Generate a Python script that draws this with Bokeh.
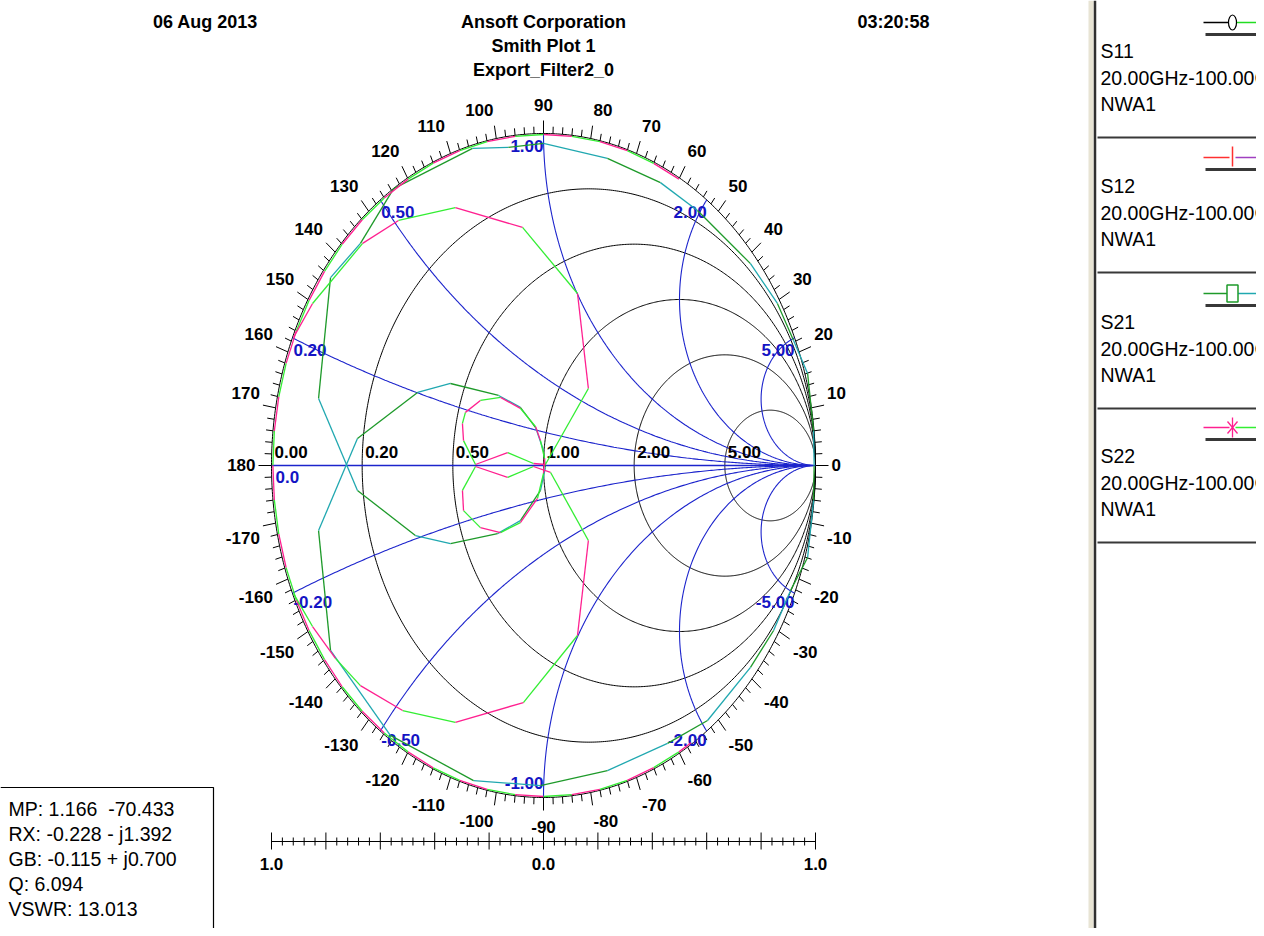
import numpy as np
from bokeh.plotting import figure
from bokeh.models import Range1d
from bokeh.embed import file_html
from bokeh.resources import INLINE
from bokeh.core.properties import value

# ---------------- data ----------------
# S21 / S12 (transmission) trace, reflection-plane coordinates
s21_re = [-0.551, -0.261, -0.129, 0.000, 0.235, 0.430, 0.566, 0.761, 0.860, 0.919, 0.971, 0.993,
          0.995, 0.993, 0.971, 0.908, 0.846, 0.761, 0.603, 0.456, 0.235, -0.011, -0.257, -0.563,
          -0.783, -0.827, -0.684, -0.463, -0.342, -0.165, -0.085, -0.029, 0.000, 0.007, -0.011,
          -0.085, -0.169, -0.342, -0.471, -0.684, -0.827, -0.783, -0.673, -0.551]
s21_im = [0.834, 0.955, 0.958, 0.970, 0.925, 0.852, 0.768, 0.608, 0.488, 0.377, 0.277, 0.105,
          0.000, -0.105, -0.277, -0.377, -0.497, -0.608, -0.768, -0.837, -0.919, -0.964, -0.949,
          -0.813, -0.557, -0.196, 0.081, 0.220, 0.247, 0.211, 0.175, 0.114, 0.045, -0.006, -0.075,
          -0.166, -0.205, -0.235, -0.211, -0.075, 0.202, 0.566, 0.669, 0.834]

# S11 / S22 (reflection) trace, passband part
s11_re = [-0.919, -0.849, -0.665, -0.533, -0.324, -0.077, 0.125, 0.165, 0.007, -0.037, -0.132,
          -0.250, -0.294, -0.298, -0.287, -0.232, -0.158, -0.085, -0.029, -0.011, 0.004, 0.000,
          -0.022, -0.085, -0.158, -0.232, -0.294, -0.298, -0.250, -0.132, -0.037, 0.026, 0.165,
          0.125, -0.074, -0.324, -0.518, -0.673, -0.765, -0.849, -0.919]
s11_im = [0.386, 0.488, 0.669, 0.738, 0.777, 0.717, 0.518, 0.232, 0.003, 0.006, 0.039, 0.003,
          0.075, 0.127, 0.160, 0.196, 0.205, 0.172, 0.117, 0.075, 0.021, -0.024, -0.099, -0.172,
          -0.202, -0.187, -0.136, -0.075, -0.003, -0.036, -0.003, -0.021, -0.226, -0.512, -0.714,
          -0.774, -0.738, -0.663, -0.581, -0.485, -0.386]

# S11 / S22 trace, stop-band part running along the rim (magnitude, angle in degrees)
s11_rim_mag = [0.996, 0.996, 0.997, 0.997, 0.997, 0.997, 0.997, 0.997, 0.997, 0.997, 0.996,
               0.996, 0.996, 0.996, 0.995, 0.995, 0.995, 0.995, 0.995, 0.995, 0.995, 0.995,
               0.995, 0.995, 0.995, 0.995, 0.995, 0.996, 0.996, 0.996, 0.996, 0.997, 0.997,
               0.997, 0.997, 0.997, 0.997, 0.997, 0.997, 0.996, 0.996, 0.996]
s11_rim_ang = [60, 66, 72, 78, 84, 90, 96, 102, 108, 114, 120, 126, 132, 138, 144, 150, 156,
               162, 168, 174, 180, 186, 192, 198, 204, 210, 216, 222, 228, 234, 240, 246, 252,
               258, 264, 270, 276, 282, 288, 294, 300, 303]

# Smith grid values
resistances = [0.0, 0.2, 0.5, 1.0, 2.0, 5.0]
res_labels = ["0.00", "0.20", "0.50", "1.00", "2.00", "5.00"]
reactances = [0.2, 0.5, 1.0, 2.0, 5.0, -0.2, -0.5, -1.0, -2.0, -5.0]
react_labels = ["0.20", "0.50", "1.00", "2.00", "5.00", "-0.20", "-0.50", "-1.00", "-2.00", "-5.00"]
angle_labels = list(range(-170, 190, 10))
scale_labels = ["1.0", "0.0", "1.0"]
scale_label_pos = [-1.0, 0.0, 1.0]

titles = ["06 Aug 2013", "Ansoft Corporation", "Smith Plot 1", "Export_Filter2_0", "03:20:58"]
marker_lines = ["MP: 1.166\u00a0\u00a0-70.433", "RX: -0.228 - j1.392", "GB: -0.115 + j0.700",
                "Q: 6.094", "VSWR: 13.013"]
legend_names = ["S11", "S12", "S21", "S22"]
legend_range = "20.00GHz-100.00GHz"
legend_source = "NWA1"
legend_left_colors = ["#000000", "#ff3030", "#1e9a2a", "#ff2090"]
legend_right_colors = ["#22dd22", "#a040c0", "#20a8b0", "#33ee33"]

# ---------------- layout ----------------
W, H = 1256, 928
CX, CY = 543, 465      # pixel of chart centre
SX, SY = 272, 332      # pixels per unit of reflection coefficient

def dx(X):
    return (X - CX) / SX

def dy(Y):
    return (CY - Y) / SY

p = figure(width=W, height=H, output_backend="svg", toolbar_location=None,
           x_range=Range1d(dx(0), dx(W)), y_range=Range1d(dy(H), dy(0)),
           x_axis_location=None, y_axis_location=None, min_border=0)
p.grid.visible = False
p.outline_line_color = None
p.background_fill_color = "white"
p.border_fill_color = "white"

FONT = value("Liberation Sans")
BLUE = "#1c24cc"
BLUE_T = "#1414c4"
FS = "17px"

# resistance circles (black)
t = np.linspace(0, 2 * np.pi, 721)
rx, ry = [], []
for r in resistances:
    c = r / (1 + r)
    rad = 1 / (1 + r)
    rx.append(c + rad * np.cos(t))
    ry.append(rad * np.sin(t))
p.multi_line(rx, ry, line_color="black", line_width=1)

# reactance arcs (blue)
rr = np.concatenate([np.linspace(0, 1, 200), np.geomspace(1, 2e4, 400)])
ax_, ay_ = [], []
for xv in reactances:
    z = rr + 1j * xv
    g = (z - 1) / (z + 1)
    ax_.append(g.real)
    ay_.append(g.imag)
p.multi_line(ax_, ay_, line_color=BLUE, line_width=1.1)
p.line([-1, 1], [0, 0], line_color=BLUE, line_width=1.4)

# angle ticks around the rim
angs = np.arange(-180, 180, 2)
a = np.radians(angs)
L = np.where(angs % 10 == 0, 13.0, 7.0)
x0 = np.cos(a)
y0 = np.sin(a)
nx = SX * np.cos(a)
ny = SY * np.sin(a)
nn = np.hypot(nx, ny)
x1 = x0 + L * (nx / nn) / SX
y1 = y0 + L * (ny / nn) / SY
p.segment(x0, y0, x1, y1, line_color="black", line_width=1)

# angle labels
lx, ly, lt, la = [], [], [], []
for ang in angle_labels:
    c = np.cos(np.radians(ang))
    s = np.sin(np.radians(ang))
    Xc = CX + SX * c
    Yc = CY - SY * s
    X = Xc + 16 * c
    if s > 0.05:
        Y = Yc - (12 + 17 * s)
    elif s < -0.05:
        Y = Yc + (12 + 17 * abs(s))
    else:
        Y = Yc - 1
    lx.append(dx(X))
    ly.append(dy(Y))
    lt.append(str(ang))
    la.append("left" if c > 0.15 else ("right" if c < -0.15 else "center"))
p.text(lx, ly, text=lt, text_align=la, text_baseline="middle", text_font=FONT,
       text_font_style="bold", text_font_size=FS, text_color="black")

# resistance labels
p.text([dx(CX + SX * (r - 1) / (r + 1) + 3) for r in resistances],
       [dy(CY - 13.5)] * len(resistances), text=res_labels, text_align="left",
       text_baseline="middle", text_font=FONT, text_font_style="bold",
       text_font_size=FS, text_color="black")

# reactance labels
kx, ky, ka = [], [], []
for xv in reactances:
    g = complex(0, xv)
    g = (g - 1) / (g + 1)
    Xp = CX + SX * g.real
    Yp = CY - SY * g.imag
    if xv == -1.0:
        Yl = Yp - 14.5
    elif xv > 0:
        Yl = Yp + 12
    else:
        Yl = Yp + 9
    if g.real < -1e-6:
        ka.append("left")
        Xl = Xp + 1
    else:
        ka.append("right")
        Xl = Xp
    kx.append(dx(Xl))
    ky.append(dy(Yl))
p.text(kx, ky, text=react_labels, text_align=ka, text_baseline="middle", text_font=FONT,
       text_font_style="bold", text_font_size=FS, text_color=BLUE_T)
p.text([dx(CX - SX + 4)], [dy(CY + 11.5)], text=["0.0"], text_align="left",
       text_baseline="middle", text_font=FONT, text_font_style="bold",
       text_font_size=FS, text_color=BLUE_T)

# traces: segments alternate between two colours
def alt_segments(re, im, c1, c2, w=1.3):
    re = np.asarray(re)
    im = np.asarray(im)
    cols = [c1 if i % 2 == 0 else c2 for i in range(len(re) - 1)]
    p.segment(re[:-1], im[:-1], re[1:], im[1:], line_color=cols, line_width=w)

rim = np.asarray(s11_rim_mag) * np.exp(1j * np.radians(s11_rim_ang))
alt_segments(s21_re, s21_im, "#1e9a2a", "#20a8b0")
alt_segments(rim.real, rim.imag, "#ff2090", "#33ee33")
alt_segments(s11_re, s11_im, "#ff2090", "#33ee33")

# bottom scale
SCY = 841
ticks = np.round(np.arange(-1.0, 1.0001, 0.04), 4)
major = np.isclose(np.abs(np.round(ticks / 0.2) * 0.2 - ticks), 0, atol=1e-6)
p.line([-1, 1], [dy(SCY)] * 2, line_color="black", line_width=1.2)
p.segment(ticks, [dy(SCY - (9 if m else 4)) for m in major], ticks,
          [dy(SCY + (8 if m else 4)) for m in major], line_color="black", line_width=1)
p.text(scale_label_pos, [dy(863)] * 3, text=scale_labels, text_align="center",
       text_baseline="middle", text_font=FONT, text_font_style="bold",
       text_font_size=FS, text_color="black")

# titles
p.text([dx(205), dx(543), dx(543), dx(543), dx(893)], [dy(21), dy(21), dy(45), dy(69), dy(21)],
       text=titles, text_align="center", text_baseline="middle", text_font=FONT,
       text_font_style="bold", text_font_size="18px", text_color="black")

# marker read-out box
p.line([dx(0), dx(213), dx(213)], [dy(787), dy(787), dy(940)], line_color="black", line_width=1.2)
p.text([dx(8)] * 5, [dy(808 + 25 * i) for i in range(5)], text=marker_lines, text_align="left",
       text_baseline="middle", text_font=FONT, text_font_size="19.5px", text_color="black")

# legend pane
p.quad(left=[dx(1088)], right=[dx(1093)], top=[dy(0)], bottom=[dy(940)],
       fill_color="#e8e4d4", line_color=None)
p.line([dx(1094.5)] * 2, [dy(0), dy(940)], line_color="#303030", line_width=2.5)
row_tops = [2, 137, 273, 407]
for k, name in enumerate(legend_names):
    y0p = row_tops[k]
    p.line([dx(1203), dx(1229)], [dy(y0p + 20)] * 2, line_color=legend_left_colors[k], line_width=1.5)
    p.line([dx(1235), dx(1264)], [dy(y0p + 20)] * 2, line_color=legend_right_colors[k], line_width=1.5)
    p.line([dx(1205), dx(1264)], [dy(y0p + 32)] * 2, line_color="#383838", line_width=3)
    p.line([dx(1097), dx(1264)], [dy(y0p + 135)] * 2, line_color="#383838", line_width=2)
    p.text([dx(1100)] * 3, [dy(y0p + 48), dy(y0p + 75), dy(y0p + 101)],
           text=[name, legend_range, legend_source], text_align="left", text_baseline="middle",
           text_font=FONT, text_font_size="19.5px", text_color="black")

mx = dx(1232)
p.ellipse([mx], [dy(2 + 20)], width=8, height=15, width_units="screen", height_units="screen",
          fill_color="white", line_color="black", line_width=1.2)
p.segment([mx], [dy(137 + 9)], [mx], [dy(137 + 29)], line_color="#ff3030", line_width=1.5)
p.rect([mx], [dy(273 + 20)], width=11, height=17, width_units="screen", height_units="screen",
       fill_color="white", line_color="#1e9a2a", line_width=1.5)
p.segment([mx, mx - 5 / SX, mx - 5 / SX], [dy(407 + 10), dy(407 + 14), dy(407 + 26)],
          [mx, mx + 5 / SX, mx + 5 / SX], [dy(407 + 30), dy(407 + 26), dy(407 + 14)],
          line_color="#ff2090", line_width=1.3)

open("out.html", "w").write(file_html(p, INLINE))
